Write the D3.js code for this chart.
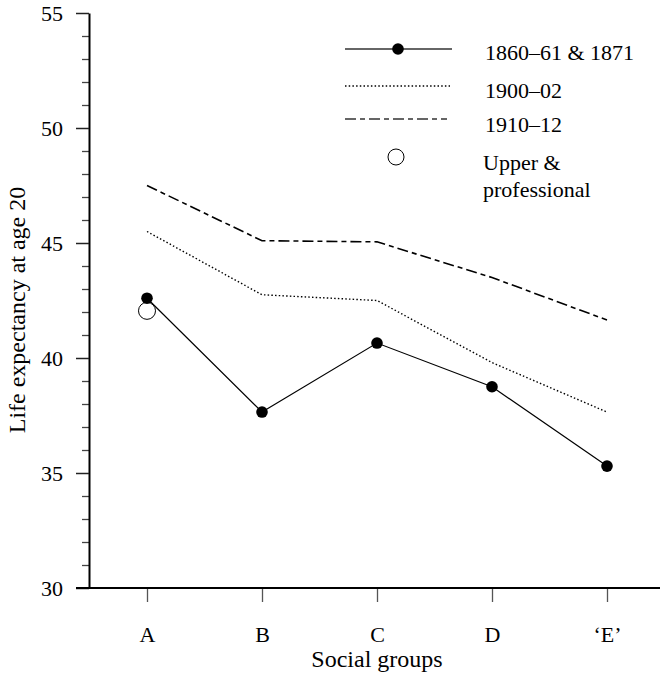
<!DOCTYPE html>
<html>
<head>
<meta charset="utf-8">
<script src="https://cdn.jsdelivr.net/npm/d3@7"></script>
<style>
  html, body { margin: 0; padding: 0; background: #fff; }
  svg { display: block; }
  text { font-family: "Liberation Serif", "Times New Roman", serif; fill: #000; }
</style>
</head>
<body>
<svg id="chart" width="660" height="673"></svg>
<script>
// ---- data ----
const categories = ["A", "B", "C", "D", "\u2018E\u2019"];
const series1860 = [42.6, 37.65, 40.65, 38.75, 35.3];
const series1900 = [45.5, 42.75, 42.5, 39.8, 37.65];
const series1910 = [47.5, 45.1, 45.05, 43.5, 41.65];
const upperProfessional = [{ cat: "A", value: 42.05 }];
const yMajorTicks = [30, 35, 40, 45, 50, 55];
const yMinorTicks = d3.range(30, 56, 1).filter(v => v % 5 !== 0);
const legendLabels = ["1860\u201361 & 1871", "1900\u201302", "1910\u201312", ["Upper &", "professional"]];

// ---- layout ----
const svg = d3.select("#chart");
const FS = 22;
const FT = 24;
const y = d3.scaleLinear().domain([30, 55]).range([588, 13]);
const x = d3.scalePoint().domain(categories).range([147, 607]);
const axisX = 89;

// y axis minor ticks
const gMinor = svg.append("g").attr("transform", `translate(${axisX},0)`)
  .call(d3.axisLeft(y).tickValues(yMinorTicks).tickSize(7).tickFormat(""));
gMinor.select(".domain").remove();
gMinor.selectAll(".tick line").attr("stroke", "#444").attr("stroke-width", 1.3);

// y axis major ticks
const gY = svg.append("g").attr("transform", `translate(${axisX},0)`)
  .call(d3.axisLeft(y).tickValues(yMajorTicks).tickSize(13).tickSizeOuter(0).tickPadding(13));
gY.select(".domain").attr("stroke", "#000").attr("stroke-width", 2);
gY.selectAll(".tick line").attr("stroke", "#222").attr("stroke-width", 1.5);
gY.selectAll(".tick text").attr("font-size", FS).attr("font-family", "Liberation Serif");

// x axis
const gX = svg.append("g").attr("transform", `translate(0,${y(30)})`)
  .call(d3.axisBottom(x).tickSize(14).tickPadding(24));
gX.select(".domain").remove();
gX.selectAll(".tick line").attr("stroke", "#555").attr("stroke-width", 1.3);
gX.selectAll(".tick text").attr("font-size", FS).attr("font-family", "Liberation Serif");
svg.append("line")
  .attr("x1", 76).attr("x2", 660)
  .attr("y1", y(30)).attr("y2", y(30))
  .attr("stroke", "#000").attr("stroke-width", 2);

// axis titles
svg.append("text")
  .attr("x", 377).attr("y", 667)
  .attr("text-anchor", "middle").attr("font-size", FT)
  .text("Social groups");
svg.append("text")
  .attr("transform", "translate(25,310) rotate(-90)")
  .attr("text-anchor", "middle").attr("font-size", FT)
  .text("Life expectancy at age 20");

// lines
const line = d3.line().x((d, i) => x(categories[i])).y(d => y(d));
svg.append("path").datum(series1910).attr("d", line)
  .attr("fill", "none").attr("stroke", "#000").attr("stroke-width", 1.6)
  .attr("stroke-dasharray", "11,4,5,4");
svg.append("path").datum(series1900).attr("d", line)
  .attr("fill", "none").attr("stroke", "#000").attr("stroke-width", 1.4)
  .attr("stroke-dasharray", "1.5,2.2");
svg.append("path").datum(series1860).attr("d", line)
  .attr("fill", "none").attr("stroke", "#000").attr("stroke-width", 1.2);

// open circle (upper & professional)
svg.selectAll("circle.up").data(upperProfessional).join("circle")
  .attr("class", "up")
  .attr("cx", d => x(d.cat)).attr("cy", d => y(d.value)).attr("r", 8.5)
  .attr("fill", "#fff").attr("stroke", "#000").attr("stroke-width", 1);

// solid dots
svg.selectAll("circle.pt").data(series1860).join("circle")
  .attr("class", "pt")
  .attr("cx", (d, i) => x(categories[i])).attr("cy", d => y(d)).attr("r", 5.8)
  .attr("fill", "#000");

// legend
const lg = svg.append("g");
const lx1 = 345, lx2 = 452, ltx = 485;
// row 1
lg.append("line").attr("x1", lx1).attr("x2", lx2).attr("y1", 49).attr("y2", 49)
  .attr("stroke", "#333").attr("stroke-width", 1.5);
lg.append("circle").attr("cx", 398).attr("cy", 49).attr("r", 5.8).attr("fill", "#000");
lg.append("text").attr("x", ltx).attr("y", 60).attr("font-size", FS).text(legendLabels[0]);
// row 2
lg.append("line").attr("x1", lx1).attr("x2", 450).attr("y1", 86).attr("y2", 86)
  .attr("stroke", "#000").attr("stroke-width", 1.4).attr("stroke-dasharray", "1.5,2.2");
lg.append("text").attr("x", ltx).attr("y", 98).attr("font-size", FS).text(legendLabels[1]);
// row 3
lg.append("line").attr("x1", lx1).attr("x2", 447).attr("y1", 119).attr("y2", 119)
  .attr("stroke", "#333").attr("stroke-width", 1.6).attr("stroke-dasharray", "11,4,5,4");
lg.append("text").attr("x", ltx).attr("y", 132).attr("font-size", FS).text(legendLabels[2]);
// row 4
lg.append("circle").attr("cx", 396).attr("cy", 157).attr("r", 8)
  .attr("fill", "#fff").attr("stroke", "#000").attr("stroke-width", 1);
lg.append("text").attr("x", 483).attr("y", 170).attr("font-size", FS).text(legendLabels[3][0]);
lg.append("text").attr("x", 483).attr("y", 197).attr("font-size", FS).text(legendLabels[3][1]);
</script>
</body>
</html>
